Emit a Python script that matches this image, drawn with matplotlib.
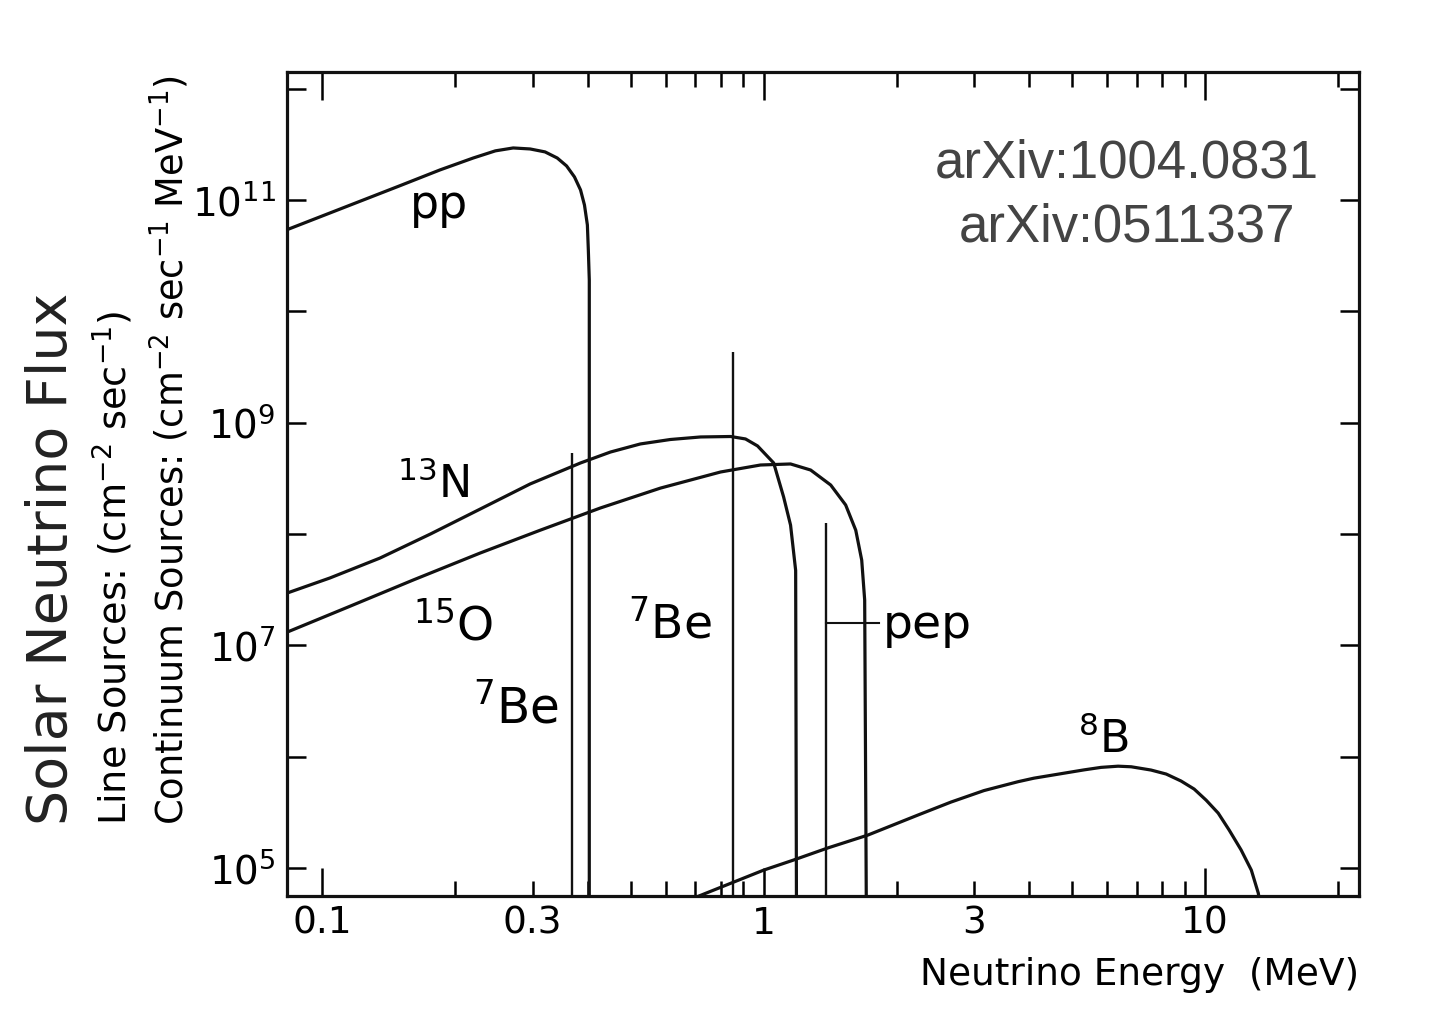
import matplotlib
matplotlib.use("Agg")
import matplotlib.pyplot as plt
from matplotlib.ticker import FixedLocator, FixedFormatter, NullLocator

plt.rcParams['font.family'] = 'DejaVu Sans'
plt.rcParams['mathtext.fontset'] = 'dejavusans'

# continuum spectra (energy in MeV, flux)
pp_energy = [0.0833, 0.150, 0.185, 0.220, 0.247, 0.271, 0.296, 0.320, 0.341, 0.358,
             0.373, 0.385, 0.393, 0.399, 0.401, 0.403, 0.403]
pp_flux = [5.4e10, 1.34e11, 1.86e11, 2.38e11, 2.76e11, 2.93e11, 2.87e11, 2.70e11, 2.38e11, 2.02e11,
           1.61e11, 1.23e11, 9.0e10, 5.96e10, 3.55e10, 1.91e10, 1e4]

n13_energy = [0.0833, 0.1042, 0.1353, 0.176, 0.228, 0.296, 0.385, 0.450, 0.526, 0.615,
              0.720, 0.842, 0.910, 0.969, 1.054, 1.110, 1.151, 1.182, 1.188]
n13_flux = [2.94e7, 4.02e7, 6.07e7, 9.98e7, 1.67e8, 2.81e8, 4.34e8, 5.44e8, 6.43e8, 7.05e8,
            7.43e8, 7.5e8, 7.13e8, 6.17e8, 4.34e8, 2.15e8, 1.20e8, 4.7e7, 1e4]

o15_energy = [0.0833, 0.116, 0.161, 0.228, 0.312, 0.427, 0.584, 0.799, 0.984, 1.151,
              1.278, 1.419, 1.534, 1.617, 1.668, 1.694, 1.712]
o15_flux = [1.31e7, 2.25e7, 3.86e7, 6.73e7, 1.08e8, 1.71e8, 2.58e8, 3.60e8, 4.16e8, 4.25e8,
            3.75e8, 2.75e8, 1.82e8, 1.08e8, 5.82e7, 2.55e7, 1e4]

b8_energy = [0.69, 0.855, 1.0, 1.164, 1.397, 1.721, 2.234, 2.655, 3.155, 3.77,
             4.095, 5.32, 5.81, 6.35, 6.80, 7.54, 8.16, 8.82, 9.44, 10.05,
             10.70, 11.33, 12.06, 12.72, 13.19, 13.4]
b8_flux = [5.3e4, 7.45e4, 9.55e4, 1.17e5, 1.51e5, 1.97e5, 2.98e5, 3.9e5, 4.95e5, 5.95e5,
           6.4e5, 7.6e5, 8.0e5, 8.2e5, 8.1e5, 7.57e5, 6.97e5, 6.03e5, 5.11e5, 4.06e5,
           3.11e5, 2.19e5, 1.45e5, 9.55e4, 5.94e4, 4.0e4]

# line sources: 7Be (two lines) and pep
line_energy = [0.369, 0.851, 1.382]
line_flux = [5.33e8, 4.31e9, 1.25e8]
pep_leader_energy = [1.382, 1.823]
pep_leader_flux = [1.58e7, 1.58e7]

# axis ticks
x_major = [0.1, 1, 10]
x_major_labels = ['0.1', '1', '10']
x_minor = [0.2, 0.3, 0.4, 0.5, 0.6, 0.7, 0.8, 0.9, 2, 3, 4, 5, 6, 7, 8, 9, 20]
x_minor_labels = ['', '0.3', '', '', '', '', '', '', '', '3', '', '', '', '', '', '', '']
y_major = [1e5, 1e6, 1e7, 1e8, 1e9, 1e10, 1e11, 1e12]
y_major_labels = [r'$10^{5}$', '', r'$10^{7}$', '', r'$10^{9}$', '', r'$10^{11}$', '']

fig = plt.figure(figsize=(14.34, 10.27), dpi=100)
ax = fig.add_axes((0.2001, 0.1276, 0.7476, 0.8023))

ax.plot(pp_energy, pp_flux, color='#111111', lw=2.3)
ax.plot(n13_energy, n13_flux, color='#111111', lw=2.3)
ax.plot(o15_energy, o15_flux, color='#111111', lw=2.3)
ax.plot(b8_energy, b8_flux, color='#111111', lw=2.3)
ax.vlines(line_energy, 1e4, line_flux, color='#111111', lw=1.7)
ax.plot(pep_leader_energy, pep_leader_flux, color='#111111', lw=1.5)

ax.set_xscale('log')
ax.set_yscale('log')
ax.set_xlim(0.0833, 22.3)
ax.set_ylim(5.6e4, 1.41e12)

ax.xaxis.set_major_locator(FixedLocator(x_major))
ax.xaxis.set_major_formatter(FixedFormatter(x_major_labels))
ax.xaxis.set_minor_locator(FixedLocator(x_minor))
ax.xaxis.set_minor_formatter(FixedFormatter(x_minor_labels))
ax.yaxis.set_major_locator(FixedLocator(y_major))
ax.yaxis.set_major_formatter(FixedFormatter(y_major_labels))
ax.yaxis.set_minor_locator(NullLocator())

ax.tick_params(axis='x', which='major', direction='in', length=20, width=1.8,
               top=True, labelsize=27, pad=7)
ax.tick_params(axis='x', which='minor', direction='in', length=11, width=1.8,
               top=True, labelsize=27, pad=7)
ax.tick_params(axis='y', which='major', direction='in', length=14, width=1.8,
               right=True, labelsize=28, pad=8)
for spine in ax.spines.values():
    spine.set_linewidth(2.3)
    spine.set_color('#111111')

# curve labels
ax.text(0.158, 6.89e10, 'pp', fontsize=33, ha='left', va='baseline')
ax.text(0.148, 2.10e8, r'$^{13}$N', fontsize=32, ha='left', va='baseline')
ax.text(0.161, 1.11e7, r'$^{15}$O', fontsize=34, ha='left', va='baseline')
ax.text(0.220, 2.0e6, r'$^{7}$Be', fontsize=35, ha='left', va='baseline')
ax.text(0.492, 1.16e7, r'$^{7}$Be', fontsize=34, ha='left', va='baseline')
ax.text(1.861, 1.16e7, 'pep', fontsize=34, ha='left', va='baseline')
ax.text(5.15, 1.07e6, r'$^{8}$B', fontsize=32, ha='left', va='baseline')

# axis titles
fig.text(0.948, 0.0506, 'Neutrino Energy  (MeV)', fontsize=27, ha='right', va='center')
fig.text(0.0363, 0.1967, 'Solar Neutrino Flux', fontsize=40, rotation=90,
         ha='center', va='bottom', color='#222222')
fig.text(0.079, 0.1967, r'Line Sources: (cm$^{-2}$ sec$^{-1}$)', fontsize=27.5, rotation=90,
         ha='center', va='bottom')
fig.text(0.119, 0.1967, r'Continuum Sources: (cm$^{-2}$ sec$^{-1}$ MeV$^{-1}$)', fontsize=26.5,
         rotation=90, ha='center', va='bottom')

# references
fig.text(0.786, 0.8267, 'arXiv:1004.0831', fontsize=38, family='Liberation Sans',
         color='#444444', ha='center', va='baseline')
fig.text(0.786, 0.7644, 'arXiv:0511337', fontsize=38, family='Liberation Sans',
         color='#444444', ha='center', va='baseline')

fig.savefig('out.png', dpi=100, facecolor='white')
